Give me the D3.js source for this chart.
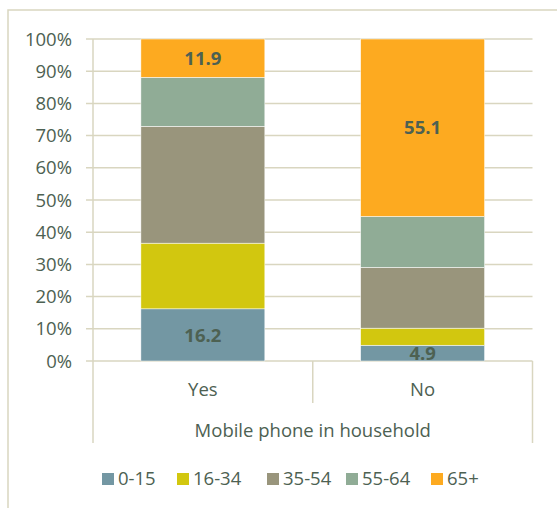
<!DOCTYPE html>
<html>
<head>
<meta charset="utf-8">
<script src="https://cdn.jsdelivr.net/npm/d3@7"></script>
<style>
  body { margin: 0; background: #fff; }
  text { font-family: "Open Sans", sans-serif; fill: #4d6152; }
</style>
</head>
<body>
<div id="chart"></div>
<script>
// data (percent of people, by age group)
var categories = ["Yes", "No"];
var ageGroups = ["0-15", "16-34", "35-54", "55-64", "65+"];
var yesValues = [16.2, 20.4, 36.3, 15.2, 11.9];
var noValues = [4.9, 5.3, 18.9, 15.8, 55.1];
var labelledGroups = ["0-15", "65+"];
var yTicks = [0, 10, 20, 30, 40, 50, 60, 70, 80, 90, 100];
var axisTitle = "Mobile phone in household";

var colors = {"0-15": "#7397a3", "16-34": "#d2c70f", "35-54": "#99957c", "55-64": "#90ac96", "65+": "#fdaa20"};
var lineColor = "#d9d6c0";
var fontSize = "18.5px";

var width = 557, height = 508;
var plotLeft = 93, plotRight = 532.5, plotTop = 39, plotBottom = 361;

// build rows for the stack
var rows = categories.map(function(c, i) {
    var vals = i == 0 ? yesValues : noValues;
    var row = {category: c};
    ageGroups.forEach(function(g, j) { row[g] = vals[j]; });
    return row;
});
var series = d3.stack().keys(ageGroups)(rows);

var svg = d3.select("#chart")
    .append("svg")
    .attr("width", width)
    .attr("height", height);

// outer chart border (runs off the right and bottom edges)
svg.append("rect")
    .attr("x", 8)
    .attr("y", 10)
    .attr("width", 600)
    .attr("height", 600)
    .attr("fill", "none")
    .attr("stroke", lineColor)
    .attr("stroke-width", 1.5);

var xCat = d3.scaleBand().domain(categories).range([plotLeft, plotRight]).padding(0);
var x = d3.scaleBand().domain(categories).range([plotLeft, plotRight])
    .paddingInner(0.436)
    .paddingOuter(0.218);
var y = d3.scaleLinear().domain([0, 100]).range([plotBottom, plotTop]);

// gridlines with little tick stubs on the left
svg.append("g")
    .selectAll("line")
    .data(yTicks)
    .enter()
    .append("line")
    .attr("x1", plotLeft - 7)
    .attr("x2", plotRight)
    .attr("y1", function(d) { return y(d); })
    .attr("y2", function(d) { return y(d); })
    .attr("stroke", lineColor)
    .attr("stroke-width", 1.5);

svg.append("g")
    .selectAll("text")
    .data(yTicks)
    .enter()
    .append("text")
    .attr("x", 72)
    .attr("y", function(d) { return y(d); })
    .attr("dy", "0.36em")
    .attr("text-anchor", "end")
    .style("font-size", fontSize)
    .text(function(d) { return d + "%"; });

// bars
var groups = svg.append("g")
    .selectAll("g")
    .data(series)
    .enter()
    .append("g")
    .attr("fill", function(d) { return colors[d.key]; });

groups.selectAll("rect")
    .data(function(d) { return d; })
    .enter()
    .append("rect")
    .attr("x", function(d) { return x(d.data.category); })
    .attr("width", x.bandwidth())
    .attr("y", function(d) { return y(d[1]); })
    .attr("height", function(d) { return y(d[0]) - y(d[1]); })
    .attr("stroke", "#fff")
    .attr("stroke-width", 0.5);

// data labels, only on some segments
series.forEach(function(s) {
    if (labelledGroups.indexOf(s.key) < 0) return;
    svg.append("g")
        .selectAll("text")
        .data(s)
        .enter()
        .append("text")
        .attr("x", function(d) { return x(d.data.category) + x.bandwidth() / 2; })
        .attr("y", function(d) { return (y(d[0]) + y(d[1])) / 2; })
        .attr("dy", "0.36em")
        .attr("text-anchor", "middle")
        .style("font-size", fontSize)
        .style("font-weight", "bold")
        .text(function(d) { return d3.format(".1f")(d[1] - d[0]); });
});

// axis frame: left line, category separators, right line
svg.append("line")
    .attr("x1", plotLeft).attr("x2", plotLeft)
    .attr("y1", plotTop).attr("y2", 443)
    .attr("stroke", lineColor).attr("stroke-width", 1.5);
svg.append("line")
    .attr("x1", plotRight).attr("x2", plotRight)
    .attr("y1", plotBottom).attr("y2", 443)
    .attr("stroke", lineColor).attr("stroke-width", 1.5);
svg.append("g")
    .selectAll("line")
    .data(categories.slice(1))
    .enter()
    .append("line")
    .attr("x1", function(d) { return xCat(d); })
    .attr("x2", function(d) { return xCat(d); })
    .attr("y1", plotBottom)
    .attr("y2", 403)
    .attr("stroke", lineColor)
    .attr("stroke-width", 1.5);

svg.append("g")
    .selectAll("text")
    .data(categories)
    .enter()
    .append("text")
    .attr("x", function(d) { return xCat(d) + xCat.bandwidth() / 2; })
    .attr("y", 396)
    .attr("text-anchor", "middle")
    .style("font-size", fontSize)
    .text(function(d) { return d; });

svg.append("text")
    .attr("x", (plotLeft + plotRight) / 2)
    .attr("y", 437)
    .attr("text-anchor", "middle")
    .style("font-size", fontSize)
    .text(axisTitle);

// legend
var legendX = [102, 177, 267, 346, 431];
var legend = svg.append("g")
    .selectAll("g")
    .data(ageGroups)
    .enter()
    .append("g")
    .attr("transform", function(d, i) { return "translate(" + legendX[i] + ",473)"; });

legend.append("rect")
    .attr("width", 12)
    .attr("height", 12)
    .attr("fill", function(d) { return colors[d]; });

legend.append("text")
    .attr("x", 16)
    .attr("y", 12)
    .style("font-size", fontSize)
    .text(function(d) { return d; });
</script>
</body>
</html>
